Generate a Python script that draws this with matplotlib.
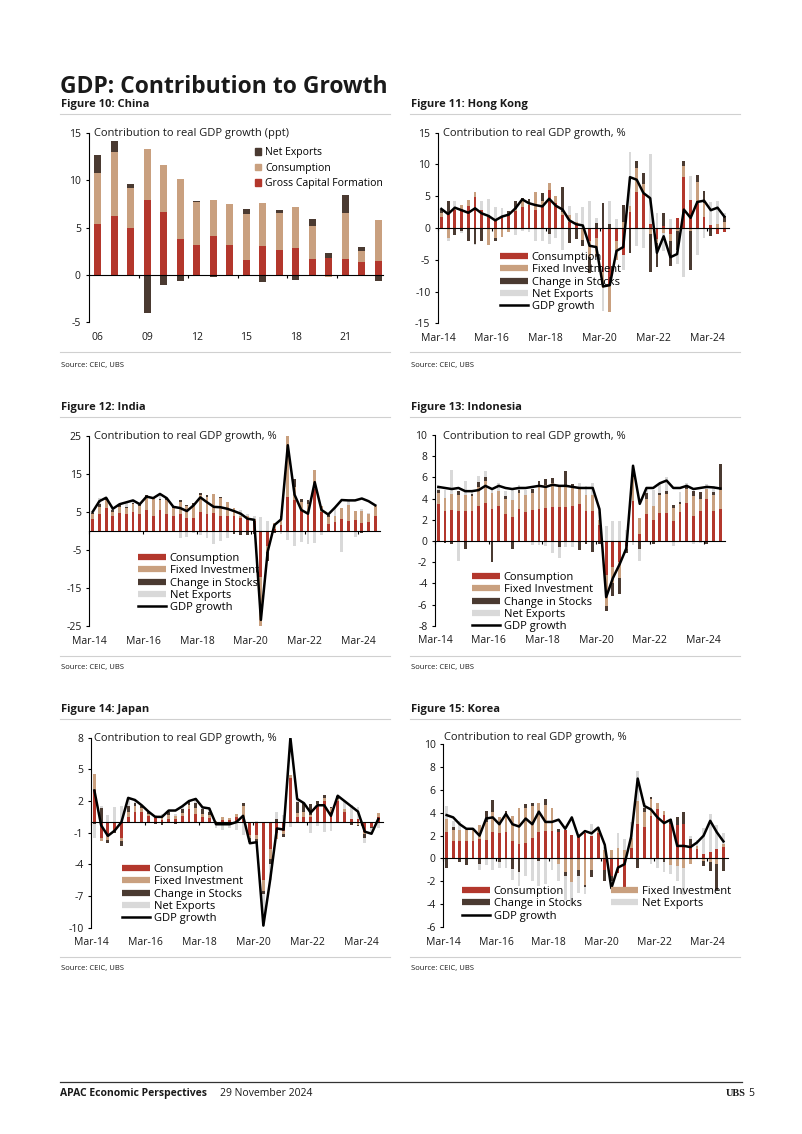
import numpy as np
import matplotlib
matplotlib.use('Agg')
import matplotlib.pyplot as plt
from matplotlib.lines import Line2D
from matplotlib.patches import Patch

plt.rcParams['font.family'] = ['Open Sans', 'DejaVu Sans']

W, H = 802, 1134
RED = '#B3372C'
TAN = '#C9A07F'
DARK = '#4A3A31'
GREY = '#D9D9D9'
TXT = '#1a1a1a'

# ---------- data ----------
china_years = list(range(2006, 2024))
china_gcf = [5.4, 6.2, 5.0, 7.9, 6.6, 3.8, 3.2, 4.1, 3.2, 1.6, 3.05, 2.6, 2.85, 1.7, 1.75, 1.7, 1.35, 1.5]
china_cons = [5.4, 6.8, 4.2, 5.4, 5.0, 6.3, 4.45, 3.8, 4.25, 4.8, 4.5, 3.95, 4.3, 3.5, -0.2, 4.85, 1.2, 4.25]
china_nx = [1.8, 1.1, 0.35, -4.0, -1.1, -0.6, 0.15, -0.2, 0.05, 0.6, -0.8, 0.3, -0.5, 0.65, 0.6, 1.85, 0.35, -0.6]

quarters = [f'{m}-{y % 100:02d}' for y in range(2014, 2025) for m in ('Mar', 'Jun', 'Sep', 'Dec')][:43]

hk_gdp = [3.0, 2.2, 3.2, 2.8, 2.4, 3.1, 2.3, 1.9, 1.2, 1.8, 2.1, 3.1, 4.5, 3.9, 3.6, 3.4, 4.6, 3.5, 2.9, 1.2,
          0.6, 0.4, -2.8, -3.0, -9.2, -9.0, -3.6, -3.0, 8.0, 7.6, 5.5, 4.7, -3.9, -1.3, -4.6, -4.1, 2.9, 1.6,
          4.1, 4.3, 2.8, 3.2, 1.8]
hk_cons = [1.8, 2.5, 2.8, 3.0, 3.4, 4.9, 2.9, 2.0, 1.2, 1.6, 2.0, 2.7, 3.3, 3.6, 2.9, 3.4, 6.0, 4.0, 2.0, 1.0,
           0.5, -0.1, -2.0, -1.5, -7.0, -9.0, -2.0, -4.2, 2.5, 5.6, 5.4, 0.6, -1.8, 0.3, -1.0, 1.5, 8.1, 4.4,
           4.3, 1.7, 0.4, -1.0, -0.6]
hk_fi = [0.6, -1.5, 0.4, 0.6, 1.0, 0.8, 0.0, -2.6, -1.6, -1.4, -0.6, 0.3, 1.2, 0.4, 2.8, 0.8, 1.1, 1.0, 0.5, 1.1,
         0.5, -1.8, -2.5, -3.0, -2.5, -4.2, -3.0, 1.0, 1.0, 3.9, 1.5, -1.0, -0.6, -0.8, -1.0, -0.5, 1.7, -0.5,
         2.9, 2.3, 0.0, 0.6, 1.0]
hk_stocks = [0.4, 1.8, -1.1, -0.4, -2.0, -2.5, -2.0, 0.0, -0.5, 0.3, 0.6, 1.2, 0.3, 0.6, 0.0, 1.3, -0.9, 0.0, 3.9,
             -2.3, -1.8, -1.0, -2.6, 0.8, 4.0, 0.6, 0.0, 2.6, -4.0, 1.0, 1.7, -6.0, -3.8, 2.0, -4.0, -3.0, 0.8,
             -6.1, 1.1, 1.8, -1.3, 0.0, 0.9]
hk_nx = [0.2, -0.6, 1.1, -0.4, 0.0, -0.1, 1.4, 2.5, 2.1, 1.3, 0.1, -1.1, -0.5, -0.7, -2.1, -2.1, -1.6, -1.5, -3.5,
         1.4, 1.4, 3.3, 4.3, 0.7, -3.6, 3.6, 1.4, -2.4, 8.5, -2.9, -3.1, 11.1, 2.3, -2.8, 1.4, -2.1, -7.7, 3.8,
         -4.2, -1.5, 3.7, 3.6, 0.5]

india_gdp = [5.0, 7.8, 8.7, 5.8, 7.0, 7.5, 8.0, 7.0, 9.0, 8.6, 9.7, 8.6, 6.3, 6.0, 5.2, 6.7, 8.8, 7.5, 6.3, 6.2,
             5.8, 5.2, 4.5, 3.2, 2.9, -23.4, -5.5, 1.5, 3.0, 22.5, 9.5, 5.5, 4.5, 12.8, 5.5, 4.3, 6.1, 8.1, 8.0,
             8.0, 8.5, 7.8, 6.7]
india_cons = [3.0, 4.3, 6.0, 3.8, 4.8, 4.5, 5.0, 4.5, 5.5, 4.0, 5.6, 4.5, 4.0, 4.5, 3.5, 3.3, 5.0, 4.5, 4.6, 4.0,
              4.0, 4.0, 3.5, 3.5, 2.5, -12.0, -4.0, 0.5, 1.5, 9.0, 8.0, 5.5, 4.5, 11.0, 5.0, 1.8, 2.3, 3.0, 2.6,
              2.8, 2.0, 2.2, 4.0]
india_fi = [1.5, 2.0, 2.0, 1.2, 1.5, 1.5, 2.0, 2.0, 3.3, 4.5, 2.5, 3.5, 2.0, 3.0, 3.0, 3.5, 4.5, 4.5, 5.0, 4.5,
            3.5, 2.0, 0.5, 0.5, 0.5, -13.5, -1.5, 1.5, 2.0, 16.0, 3.5, 2.0, 2.5, 5.0, 1.5, 1.8, 1.5, 3.0, 4.2,
            2.5, 3.3, 2.2, 2.5]
india_stocks = [0.3, 0.7, 0.5, 0.6, 0.7, 0.3, 0.3, 0.3, 0.5, 0.5, 0.3, 0.6, 0.5, 0.5, 0.4, 0.5, 0.4, 0.3, 0.2,
                0.3, 0.2, -0.7, -1.0, -1.2, -0.9, -1.5, -2.5, -0.5, 0.3, 0.0, 2.0, 0.8, 1.0, 0.0, 0.0, 0.5, 0.0,
                0.0, 0.0, 0.0, -0.5, 0.0, 0.0]
india_nx = [0.2, 1.5, 0.2, 0.2, 0.0, 1.2, 0.7, 0.2, -0.3, -0.4, 1.3, 0.0, -0.2, -2.0, -1.7, -0.6, -1.1, -1.8,
            -3.5, -2.6, -1.9, -0.1, 1.5, 0.4, 0.8, 3.6, 2.5, 0.0, -0.8, -2.5, -4.0, -2.8, -3.5, -3.2, -1.0, 0.2,
            2.3, -5.5, 1.2, -1.5, 0.5, 0.3, -0.3]

indo_gdp = [5.1, 5.0, 4.9, 5.0, 4.7, 4.7, 4.8, 5.2, 4.9, 5.2, 5.0, 4.9, 5.0, 5.0, 5.1, 5.2, 5.1, 5.3, 5.2, 5.2,
            5.1, 5.0, 5.0, 5.0, 3.0, -5.3, -3.5, -2.2, -0.7, 7.1, 3.5, 5.0, 5.0, 5.45, 5.7, 5.0, 5.0, 5.2, 4.9,
            5.0, 5.1, 5.05, 4.95]
indo_cons = [3.5, 2.8, 2.9, 2.8, 2.8, 2.8, 3.3, 3.6, 3.0, 3.3, 2.5, 2.3, 3.0, 2.7, 2.9, 3.0, 3.1, 3.2, 3.2, 3.2,
             3.3, 3.5, 2.8, 2.8, 1.5, -3.2, -2.5, -2.0, -0.5, 3.8, 0.7, 2.5, 2.0, 2.6, 2.6, 1.9, 2.7, 3.6, 2.4,
             2.8, 4.0, 2.8, 3.0]
indo_fi = [1.0, 1.3, 1.5, 1.5, 1.5, 1.4, 1.8, 2.1, 1.5, 1.4, 1.5, 1.6, 1.5, 1.6, 1.6, 2.1, 2.2, 2.3, 2.0, 2.0,
           1.8, 1.5, 1.5, 1.5, 0.5, -2.9, -1.5, -1.5, -0.3, 2.2, 1.5, 1.5, 1.3, 1.7, 1.8, 1.2, 0.8, 1.3, 1.8,
           1.2, 0.9, 1.5, 1.8]
indo_stocks = [0.3, -0.2, -0.3, 0.4, -0.8, 0.2, 0.5, 0.3, -2.0, 0.0, 0.2, -0.8, 0.3, 0.0, 0.4, 0.6, 0.5, 0.4,
               -0.6, 1.4, 0.3, -0.9, -0.3, -1.0, -0.3, -0.5, -1.2, -1.5, -0.3, 0.3, -0.8, 0.5, -0.3, 0.2, 0.3,
               0.3, 0.2, 0.3, 0.5, 0.6, -0.3, 0.3, 2.5]
indo_nx = [0.3, 0.7, 2.3, -1.9, 1.4, 0.3, 0.5, 0.6, 0.3, 0.8, 0.5, 1.0, 0.5, 0.5, -0.4, -0.4, -0.5, -1.1, -1.0,
           -0.6, -0.6, 0.5, 0.9, 1.2, 0.7, 1.4, 1.9, 1.9, 1.0, -0.4, -1.1, 0.5, 1.5, 1.0, 1.3, -0.5, 0.9, 0.3,
           -0.3, -0.2, 0.5, 0.6, 0.0]

japan_gdp = [3.0, -0.3, -1.3, -0.8, 0.0, 2.3, 2.1, 1.6, 1.0, 0.5, 0.5, 1.1, 1.1, 1.5, 2.0, 2.2, 1.4, 1.3, -0.2,
             -0.2, -0.2, 0.0, 0.6, -2.0, -1.9, -9.8, -5.5, -0.6, -0.7, 8.0, 2.2, 1.8, 0.9, 1.6, 1.6, 0.6, 2.5,
             2.0, 1.5, 1.0, -0.9, -1.1, 0.3]
japan_cons = [3.0, -1.5, -1.3, -0.8, -1.5, 0.5, 1.0, 1.0, 0.6, 0.4, 0.2, 0.3, 0.3, 0.6, 1.2, 0.8, 0.5, 0.4, 0.0,
              0.2, 0.2, 0.5, 0.3, -1.2, -1.2, -5.5, -2.5, -1.0, -0.8, 4.2, 0.5, 0.5, 0.5, 1.5, 2.0, 1.0, 2.0,
              1.0, 0.3, 0.3, -0.9, -0.5, 0.5]
japan_fi = [1.6, -0.3, -0.4, 0.0, -0.3, 0.5, 0.5, 0.3, 0.2, 0.2, 0.3, 0.4, 0.3, 0.3, 0.4, 0.5, 0.3, 0.3, 0.1, 0.3,
            0.2, 0.3, 1.2, -0.3, -0.4, -1.0, -1.0, -0.6, -0.3, 0.3, 0.4, 0.5, 0.2, 0.2, 0.3, 0.3, 0.2, 0.2, 0.0,
            -0.3, -0.2, 0.0, 0.4]
japan_stocks = [-0.2, 1.3, -0.3, -0.2, -0.5, 0.5, 0.3, 0.2, 0.3, -0.2, -0.3, 0.3, -0.2, 0.3, 0.3, 0.5, 0.4, 0.3,
                -0.1, -0.2, 0.0, -0.1, 0.3, -0.4, -0.4, -0.3, -0.5, 0.3, -0.3, 0.0, 1.0, 0.8, 1.0, 0.3, 0.3, 0.1,
                0.3, 0.0, -0.3, -0.1, -0.4, -0.1, 0.0]
japan_nx = [-1.3, 0.2, 0.7, 1.4, 1.5, 0.8, 0.3, 0.1, -0.1, 0.1, 0.3, 0.1, 0.2, 0.3, 0.0, 0.4, 0.2, 0.3, -0.5,
            -0.5, -0.6, -0.6, -1.2, 0.0, 0.1, -3.0, -1.5, 0.7, 0.7, -0.5, 0.3, 0.0, -1.0, -0.4, -0.9, -0.8, 0.0,
            0.8, 1.3, 1.1, -0.5, -0.5, -0.6]

korea_gdp = [3.8, 3.6, 3.0, 2.6, 2.6, 2.0, 3.5, 3.6, 3.0, 3.9, 3.0, 2.8, 3.5, 3.0, 4.1, 3.2, 3.2, 3.4, 2.6, 3.6,
             1.9, 2.4, 2.2, 2.7, 1.2, -2.6, -0.8, -0.5, 1.9, 7.0, 4.6, 4.3, 3.6, 3.1, 3.4, 1.1, 1.1, 1.0, 1.4,
             2.0, 3.3, 2.3, 1.5]
korea_cons = [2.3, 1.5, 1.5, 1.5, 1.5, 1.7, 1.6, 2.3, 2.2, 2.3, 1.5, 1.3, 1.4, 1.8, 2.3, 2.4, 2.4, 2.3, 2.5, 2.1,
              1.9, 2.2, 2.0, 2.2, -1.0, -1.5, -1.3, -2.5, 0.9, 3.0, 2.8, 3.7, 4.3, 3.8, 3.0, 2.9, 3.0, 1.2, 0.8,
              0.4, 0.6, 0.8, 1.0]
korea_fi = [1.2, 1.0, 1.0, 1.0, 1.0, 1.2, 1.6, 1.8, 1.4, 1.6, 2.2, 3.1, 3.0, 2.8, 2.6, 2.3, 2.0, -0.5, -1.2, -2.1,
            -1.0, -2.3, -1.0, 0.3, 0.7, 0.7, 0.9, 0.7, 0.9, 2.0, 1.3, 1.5, 0.6, 0.4, -0.6, -0.7, -0.8, -0.5, 0.3,
            -0.2, -0.3, -0.5, 0.3]
korea_stocks = [-0.8, 0.3, -0.3, -0.6, 0.0, -0.5, 1.0, 1.0, -0.3, 0.3, -0.9, -1.2, 0.4, 0.3, -0.2, 0.5, 0.0, 0.3,
                -0.3, 0.0, -0.5, -0.2, -0.6, 0.0, -1.0, -0.5, 0.0, 0.0, 0.0, -0.8, 0.3, 0.2, 0.0, -0.3, 0.5, 0.7,
                1.1, 0.5, 0.0, -0.5, -0.8, -2.3, -1.1]
korea_nx = [1.1, 0.5, 0.8, 0.2, 0.1, -0.5, -0.6, -1.0, -0.5, -0.8, -1.0, -1.2, -1.5, -2.0, -2.2, -2.2, -1.0, -1.5,
            -2.1, -2.0, -1.5, -0.6, 1.0, 0.3, 0.3, -0.1, 1.3, 1.0, 1.4, 2.7, 0.5, -0.5, -0.8, -0.9, -0.8, -1.3,
            -2.4, 0.3, 0.5, 2.3, 3.3, 2.1, 0.9]

labels_q = ['Consumption', 'Fixed Investment', 'Change in Stocks', 'Net Exports', 'GDP growth']

fig = plt.figure(figsize=(W / 100, H / 100), dpi=100)


def box(l, t, r, b):
    return [l / W, 1 - b / H, (r - l) / W, (b - t) / H]


def ftext(x, y, s, **kw):
    kw.setdefault('color', TXT)
    fig.text(x / W, 1 - y / H, s, va='baseline', **kw)


def hline(x0, x1, y, color='#d0d0d0', lw=0.8):
    fig.add_artist(Line2D([x0 / W, x1 / W], [1 - y / H, 1 - y / H], color=color, lw=lw))


def stack_bars(ax, x, series, colors, width):
    up = np.zeros(len(x))
    down = np.zeros(len(x))
    for vals, c in zip(series, colors):
        v = np.asarray(vals, float)
        pos = np.clip(v, 0, None)
        neg = np.clip(v, None, 0)
        ax.bar(x, pos, width, bottom=up, color=c, linewidth=0, zorder=1)
        ax.bar(x, neg, width, bottom=down, color=c, linewidth=0, zorder=1)
        up += pos
        down += neg


def style_axes(ax, ylim, yticks, xticks, xlabels_pos, xlabels):
    ax.set_ylim(*ylim)
    ax.set_yticks(yticks)
    ax.set_yticklabels([str(t) for t in yticks])
    for s in ('top', 'right'):
        ax.spines[s].set_visible(False)
    ax.spines['left'].set_linewidth(0.8)
    ax.spines['bottom'].set_position(('data', 0))
    ax.spines['bottom'].set_linewidth(0.8)
    ax.spines['bottom'].set_zorder(4)
    ax.set_xticks(xticks)
    ax.tick_params(axis='x', labelbottom=False, length=2.5, width=0.8, direction='out')
    ax.tick_params(axis='y', length=2.5, width=0.8, labelsize=7.5, labelcolor=TXT, pad=3)
    ax.patch.set_alpha(0)
    sec = ax.secondary_xaxis('bottom')
    sec.set_xticks(xlabels_pos)
    sec.set_xticklabels(xlabels)
    sec.tick_params(length=0, labelsize=7.5, labelcolor=TXT, pad=7)
    sec.spines['bottom'].set_visible(False)


def quarterly(bx, parts, gdp, ylim, yticks, leg_xy, ncol=1, colspace=2.0):
    ax = fig.add_axes(box(*bx))
    x = np.arange(len(gdp))
    stack_bars(ax, x, parts, [RED, TAN, DARK, GREY], 0.42)
    ax.plot(x, gdp, color='black', lw=1.8, zorder=5)
    ax.set_xlim(-0.5, 42.7)
    pos = [i - 0.5 for i in range(0, len(gdp), 8)]
    style_axes(ax, ylim, yticks, pos, pos, quarters[::8])
    handles = [Line2D([0], [0], color=c, lw=4.5, solid_capstyle='butt') for c in (RED, TAN, DARK, GREY)]
    handles.append(Line2D([0], [0], color='black', lw=1.8))
    hl = list(zip(handles, labels_q))
    if ncol == 2:
        hl = [hl[0], hl[2], hl[4], hl[1], hl[3]]
    ax.legend([h for h, _ in hl], [l for _, l in hl], loc='upper left',
              bbox_to_anchor=(leg_xy[0] / W, 1 - leg_xy[1] / H), bbox_transform=fig.transFigure,
              frameon=False, fontsize=8, handlelength=2.5, handletextpad=0.35, labelspacing=0.12,
              borderpad=0, borderaxespad=0, ncol=ncol, columnspacing=colspace)
    return ax


# ---------- page texts ----------
ftext(60, 93, 'GDP: Contribution to Growth', fontsize=16.5, fontweight='bold')
ftext(61, 107, 'Figure 10: China', fontsize=8, fontweight='bold')
ftext(411, 107, 'Figure 11: Hong Kong', fontsize=8, fontweight='bold')
ftext(61, 410, 'Figure 12: India', fontsize=8, fontweight='bold')
ftext(411, 410, 'Figure 13: Indonesia', fontsize=8, fontweight='bold')
ftext(61, 712, 'Figure 14: Japan', fontsize=8, fontweight='bold')
ftext(411, 712, 'Figure 15: Korea', fontsize=8, fontweight='bold')
for y in (114, 417, 719):
    hline(60, 390, y)
    hline(410, 740, y)
for y, ty in ((352, 367), (656, 669), (957, 970)):
    hline(60, 390, y)
    hline(410, 740, y)
    ftext(61, ty, 'Source: CEIC, UBS', fontsize=5.5)
    ftext(411, ty, 'Source: CEIC, UBS', fontsize=5.5)

hline(60, 742, 1082, color='#333333', lw=0.9)
ftext(60, 1096, 'APAC Economic Perspectives', fontsize=7.5, fontweight='bold')
ftext(220, 1096, '29 November 2024', fontsize=7.5)
ftext(726, 1096, 'UBS', fontsize=7.5, fontweight='bold', family=['Liberation Serif'])
ftext(748, 1096, '5', fontsize=7.5)

# ---------- China ----------
axc = fig.add_axes(box(88.5, 132.7, 383, 322.3))
yr = np.array(china_years)
stack_bars(axc, yr, [china_gcf, china_cons, china_nx], [RED, TAN, DARK], 0.42)
axc.set_xlim(yr[0] - 0.55, yr[-1] + 0.3)
style_axes(axc, (-5, 15), [15, 10, 5, 0, -5], [y + 0.5 for y in china_years[2:-1:3]],
           china_years[::3], [f'{y % 100:02d}' for y in china_years[::3]])
ch = [Patch(color=DARK), Patch(color=TAN), Patch(color=RED)]
axc.legend(ch, ['Net Exports', 'Consumption', 'Gross Capital Formation'], loc='upper left',
           bbox_to_anchor=(255 / W, 1 - 147 / H), bbox_transform=fig.transFigure, frameon=False,
           fontsize=7.5, handlelength=0.6, handleheight=0.6, handletextpad=0.4, labelspacing=0.45,
           borderpad=0, borderaxespad=0)
ftext(94, 136, 'Contribution to real GDP growth (ppt)', fontsize=8)

# ---------- quarterly charts ----------
quarterly((438, 132.7, 729, 323.3), [hk_cons, hk_fi, hk_stocks, hk_nx], hk_gdp, (-15, 15),
          [15, 10, 5, 0, -5, -10, -15], (500, 252))
ftext(443, 136, 'Contribution to real GDP growth, %', fontsize=8)

quarterly((89.3, 435.7, 380, 626), [india_cons, india_fi, india_stocks, india_nx], india_gdp, (-25, 25),
          [25, 15, 5, -5, -15, -25], (138, 553))
ftext(94, 439, 'Contribution to real GDP growth, %', fontsize=8)

quarterly((435, 435, 725, 625.7), [indo_cons, indo_fi, indo_stocks, indo_nx], indo_gdp, (-8, 10),
          list(range(10, -9, -2)), (472, 572))
ftext(443, 439, 'Contribution to real GDP growth, %', fontsize=8)

quarterly((91, 737.7, 383, 927.7), [japan_cons, japan_fi, japan_stocks, japan_nx], japan_gdp, (-10, 8),
          [8, 5, 2, -1, -4, -7, -10], (122, 864))
ftext(94, 741, 'Contribution to real GDP growth, %', fontsize=8)

quarterly((443.3, 744.3, 728, 927), [korea_cons, korea_fi, korea_stocks, korea_nx], korea_gdp, (-6, 10),
          list(range(10, -7, -2)), (462, 886), ncol=2, colspace=2.6)
ftext(444, 740, 'Contribution to real GDP growth, %', fontsize=8)

fig.savefig('out.png', dpi=100)
